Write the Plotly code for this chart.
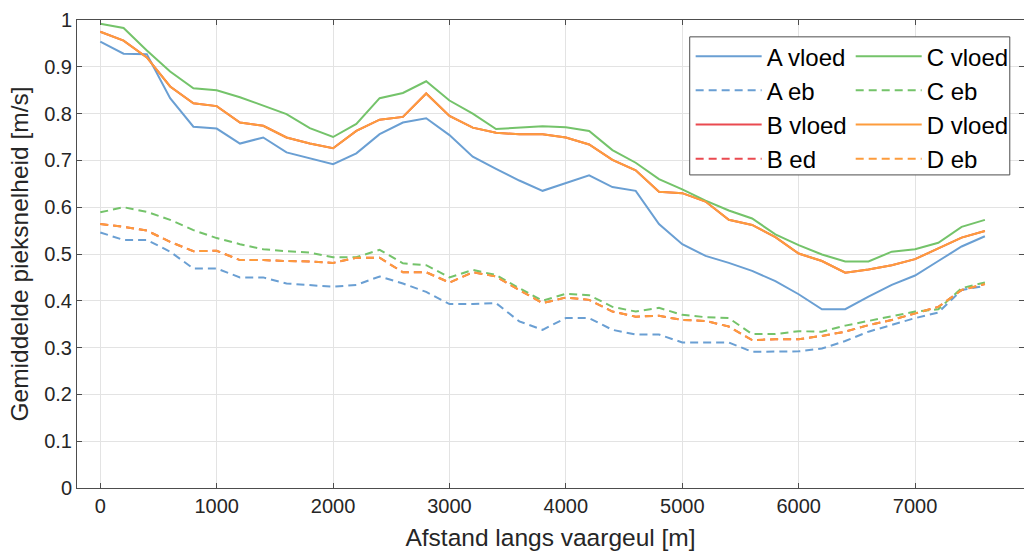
import plotly.graph_objects as go

# Distance along the fairway [m]
afstand = [0, 200, 400, 600, 800, 1000, 1200, 1400, 1600, 1800,
           2000, 2200, 2400, 2600, 2800, 3000, 3200, 3400, 3600, 3800,
           4000, 4200, 4400, 4600, 4800, 5000, 5200, 5400, 5600, 5800,
           6000, 6200, 6400, 6600, 6800, 7000, 7200, 7400, 7600]

# Mean peak velocity [m/s]
a_vloed = [0.954, 0.928, 0.927, 0.833, 0.772, 0.768, 0.736, 0.749, 0.717, 0.704,
           0.692, 0.715, 0.756, 0.781, 0.790, 0.754, 0.708, 0.682, 0.657, 0.635,
           0.652, 0.668, 0.643, 0.635, 0.564, 0.521, 0.496, 0.481, 0.464, 0.442,
           0.414, 0.382, 0.382, 0.409, 0.434, 0.454, 0.485, 0.516, 0.538]
a_eb = [0.546, 0.530, 0.530, 0.505, 0.469, 0.469, 0.450, 0.450, 0.437, 0.433,
        0.430, 0.434, 0.452, 0.437, 0.419, 0.393, 0.393, 0.395, 0.356, 0.338,
        0.363, 0.363, 0.338, 0.328, 0.328, 0.311, 0.311, 0.311, 0.291, 0.292,
        0.292, 0.298, 0.314, 0.334, 0.348, 0.363, 0.375, 0.423, 0.432]
c_vloed = [0.992, 0.983, 0.935, 0.890, 0.854, 0.850, 0.835, 0.817, 0.799, 0.769,
           0.750, 0.778, 0.833, 0.844, 0.869, 0.828, 0.800, 0.767, 0.770, 0.773,
           0.771, 0.763, 0.722, 0.695, 0.660, 0.638, 0.614, 0.593, 0.576, 0.542,
           0.519, 0.499, 0.484, 0.484, 0.505, 0.510, 0.524, 0.558, 0.573]
c_eb = [0.589, 0.600, 0.590, 0.573, 0.551, 0.534, 0.521, 0.510, 0.506, 0.503,
        0.493, 0.493, 0.509, 0.480, 0.476, 0.450, 0.466, 0.455, 0.427, 0.400,
        0.415, 0.412, 0.387, 0.377, 0.385, 0.370, 0.365, 0.363, 0.329, 0.329,
        0.335, 0.334, 0.347, 0.357, 0.368, 0.377, 0.382, 0.427, 0.439]
d_vloed = [0.975, 0.956, 0.920, 0.858, 0.822, 0.816, 0.781, 0.774, 0.749, 0.736,
           0.726, 0.763, 0.787, 0.793, 0.843, 0.795, 0.770, 0.759, 0.756, 0.756,
           0.749, 0.734, 0.701, 0.679, 0.633, 0.630, 0.612, 0.573, 0.562, 0.536,
           0.501, 0.485, 0.460, 0.467, 0.476, 0.489, 0.512, 0.535, 0.549]
d_eb = [0.564, 0.558, 0.550, 0.526, 0.506, 0.507, 0.487, 0.487, 0.485, 0.484,
        0.481, 0.492, 0.492, 0.461, 0.461, 0.439, 0.461, 0.452, 0.423, 0.395,
        0.407, 0.402, 0.377, 0.366, 0.368, 0.359, 0.357, 0.345, 0.316, 0.318,
        0.318, 0.325, 0.334, 0.348, 0.359, 0.373, 0.387, 0.423, 0.436]
# Route B coincides with route D
b_vloed = list(d_vloed)
b_ed = list(d_eb)

x_ticks = [0, 1000, 2000, 3000, 4000, 5000, 6000, 7000]
y_ticks = [0, 0.1, 0.2, 0.3, 0.4, 0.5, 0.6, 0.7, 0.8, 0.9, 1]

BLUE = "#6a9fd3"
GREEN = "#74c36a"
RED = "#ea4a50"
ORANGE = "#fd9c3c"
DASH = "8px,5px"

# (name, values, colour, dash, legend column); B is drawn beneath D
series = [
    ("A vloed", a_vloed, BLUE, "solid", "legend"),
    ("A eb", a_eb, BLUE, DASH, "legend"),
    ("B vloed", b_vloed, RED, "solid", "legend"),
    ("B ed", b_ed, RED, DASH, "legend"),
    ("C vloed", c_vloed, GREEN, "solid", "legend2"),
    ("C eb", c_eb, GREEN, DASH, "legend2"),
    ("D vloed", d_vloed, ORANGE, "solid", "legend2"),
    ("D eb", d_eb, ORANGE, DASH, "legend2"),
]

fig = go.Figure()
for name, vals, color, dash, leg in series:
    fig.add_trace(go.Scatter(
        x=afstand, y=vals, name=name, mode="lines", legend=leg,
        line=dict(color=color, width=2, dash=dash),
    ))

FONT = "Liberation Sans, Arial, sans-serif"
axis_common = dict(
    showline=True, linecolor="#4d4d4d", linewidth=1, mirror="all",
    ticks="inside", ticklen=5, tickcolor="#4d4d4d",
    showgrid=True, gridcolor="#e3e3e3", gridwidth=1,
    zeroline=False,
    tickfont=dict(family=FONT, size=20, color="#262626"),
)

legend_common = dict(
    orientation="v", yanchor="top", xanchor="left",
    bgcolor="rgba(0,0,0,0)", borderwidth=0,
    font=dict(family=FONT, size=24, color="#000000"),
    itemwidth=66, traceorder="normal", tracegroupgap=0,
)

fig.update_layout(
    width=1024, height=553,
    margin=dict(l=77, r=0, t=20, b=65),
    paper_bgcolor="white", plot_bgcolor="white",
    font=dict(family=FONT, color="#262626"),
    xaxis=dict(
        range=[-200, 7936], tickvals=x_ticks,
        title=dict(text="Afstand langs vaargeul [m]", font=dict(size=24.5), standoff=12),
        **axis_common,
    ),
    yaxis=dict(
        range=[0, 1], tickvals=y_ticks, ticktext=[f"{v:g}" for v in y_ticks],
        title=dict(text="Gemiddelde pieksnelheid [m/s]", font=dict(size=24.5), standoff=8),
        **axis_common,
    ),
    legend=dict(x=0.648, y=0.970, **legend_common),
    legend2=dict(x=0.817, y=0.970, **legend_common),
    showlegend=True,
    shapes=[dict(
        type="rect", xref="paper", yref="paper", layer="above",
        x0=0.647, x1=0.985, y0=0.669, y1=0.964,
        line=dict(color="#4d4d4d", width=1), fillcolor="white",
    )],
)

fig.write_html("out.html")
